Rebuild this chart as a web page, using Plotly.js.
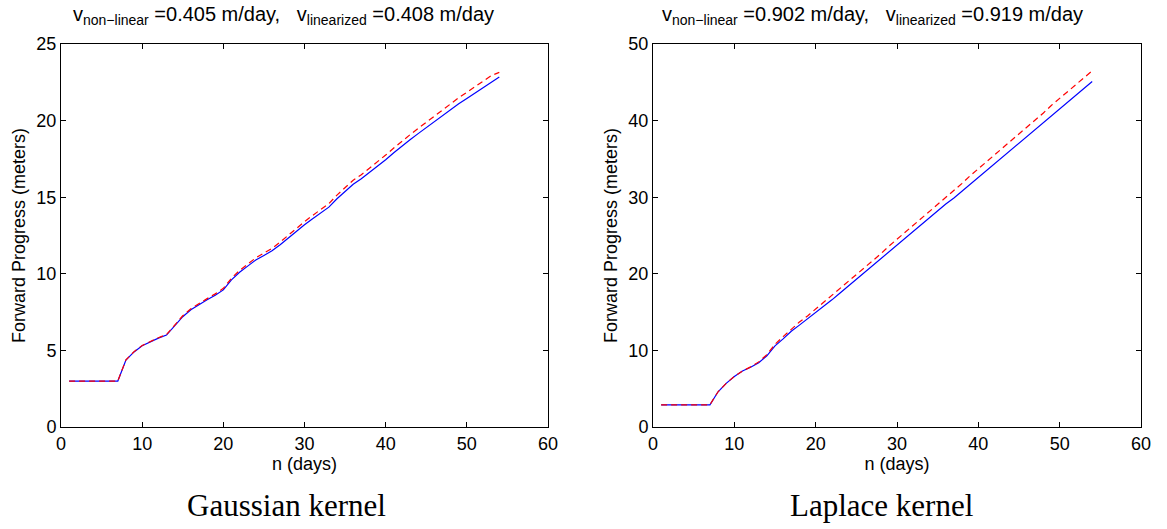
<!DOCTYPE html>
<html>
<head>
<meta charset="utf-8">
<script src="https://cdn.plot.ly/plotly-3.0.1.min.js"></script>
<style>html,body{margin:0;padding:0;background:#fff;} #chart{width:1167px;height:529px;}</style>
</head>
<body>
<div id="chart"></div>
<script>
// Days
const days = [1,2,3,4,5,6,7,8,9,10,11,12,13,14,15,16,17,18,19,20,21,22,23,24,25,26,27,28,29,30,31,32,33,34,35,36,37,38,39,40,41,42,43,44,45,46,47,48,49,50,51,52,53,54];

// Gaussian kernel: forward progress (meters)
const gaussNonLinear = [3.0,3.0,3.0,3.0,3.0,3.0,3.0,4.37,4.9,5.3,5.57,5.8,6.0,6.6,7.2,7.65,8.0,8.3,8.6,8.95,9.6,10.1,10.5,10.9,11.2,11.5,11.9,12.35,12.8,13.2,13.6,13.95,14.35,14.9,15.4,15.85,16.2,16.6,17.0,17.45,17.9,18.35,18.75,19.15,19.55,19.95,20.3,20.7,21.1,21.45,21.8,22.15,22.5,22.85];
const gaussLinearized = [3.0,3.0,3.0,3.0,3.0,3.0,3.0,4.38,4.92,5.32,5.6,5.83,6.04,6.65,7.26,7.72,8.07,8.38,8.69,9.05,9.71,10.22,10.63,11.04,11.35,11.66,12.07,12.53,12.99,13.4,13.81,14.17,14.58,15.14,15.65,16.11,16.47,16.88,17.29,17.75,18.21,18.67,19.08,19.49,19.9,20.31,20.67,21.08,21.49,21.85,22.21,22.57,22.93,23.15];

// Laplace kernel: forward progress (meters)
const laplaceNonLinear = [2.9,2.9,2.9,2.9,2.9,2.9,2.9,4.6,5.7,6.6,7.3,7.8,8.4,9.3,10.6,11.5,12.5,13.3,14.1,14.9,15.7,16.6,17.5,18.4,19.3,20.2,21.1,22.0,22.8,23.7,24.6,25.5,26.4,27.3,28.2,29.1,29.9,30.8,31.7,32.6,33.5,34.4,35.3,36.2,37.1,38.0,38.9,39.8,40.6,41.5,42.4,43.3,44.2,45.1];
const laplaceLinearized = [2.9,2.9,2.9,2.9,2.9,2.9,2.9,4.6,5.7,6.6,7.3,7.85,8.5,9.45,10.8,11.8,12.8,13.7,14.5,15.4,16.2,17.1,18.0,19.0,19.9,20.8,21.7,22.6,23.6,24.5,25.4,26.3,27.2,28.2,29.1,30.0,30.9,31.8,32.8,33.7,34.6,35.5,36.4,37.4,38.3,39.2,40.1,41.0,42.0,42.9,43.8,44.7,45.6,46.5];

const titleLeft = 'v<sub>non\u2212linear</sub> =0.405 m/day,\u00a0\u00a0\u00a0v<sub>linearized</sub> =0.408 m/day';
const titleRight = 'v<sub>non\u2212linear</sub> =0.902 m/day,\u00a0\u00a0\u00a0v<sub>linearized</sub> =0.919 m/day';
const xLabel = 'n (days)';
const yLabel = 'Forward Progress (meters)';
const captionLeft = 'Gaussian kernel';
const captionRight = 'Laplace kernel';

const sans = 'Liberation Sans, Arial, Helvetica, sans-serif';
const serif = 'Liberation Serif, Times New Roman, serif';

const traces = [
  {x: days, y: gaussNonLinear, xaxis: 'x', yaxis: 'y', mode: 'lines', line: {color: '#0000ff', width: 1.2}, name: 'non-linear'},
  {x: days, y: gaussLinearized, xaxis: 'x', yaxis: 'y', mode: 'lines', line: {color: '#ff0000', width: 1.2, dash: '6px,4px'}, name: 'linearized'},
  {x: days, y: laplaceNonLinear, xaxis: 'x2', yaxis: 'y2', mode: 'lines', line: {color: '#0000ff', width: 1.2}, name: 'non-linear'},
  {x: days, y: laplaceLinearized, xaxis: 'x2', yaxis: 'y2', mode: 'lines', line: {color: '#ff0000', width: 1.2, dash: '6px,4px'}, name: 'linearized'}
];

const W = 1167, H = 529;
const ax = (extra) => Object.assign({
  showline: true, mirror: 'ticks', linecolor: '#000', linewidth: 1,
  ticks: 'inside', ticklen: 5, tickcolor: '#000', tickwidth: 1,
  showgrid: false, zeroline: false, fixedrange: true,
  tickfont: {family: sans, size: 18, color: '#000'}
}, extra);

const yDom = [1 - 427/H, 1 - 44/H];

const layout = {
  width: W, height: H,
  margin: {l: 0, r: 0, t: 0, b: 0},
  paper_bgcolor: '#fff', plot_bgcolor: '#fff',
  showlegend: false,
  xaxis: ax({domain: [61/W, 548/W], range: [0, 60], dtick: 10, anchor: 'y',
    title: {text: xLabel, font: {family: sans, size: 18, color: '#000'}, standoff: 3}}),
  yaxis: ax({domain: yDom, range: [0, 25], dtick: 5, anchor: 'x',
    title: {text: yLabel, font: {family: sans, size: 18, color: '#000'}, standoff: 6}}),
  xaxis2: ax({domain: [653/W, 1141/W], range: [0, 60], dtick: 10, anchor: 'y2',
    title: {text: xLabel, font: {family: sans, size: 18, color: '#000'}, standoff: 3}}),
  yaxis2: ax({domain: yDom, range: [0, 50], dtick: 10, anchor: 'x2',
    title: {text: yLabel, font: {family: sans, size: 18, color: '#000'}, standoff: 6}}),
  annotations: [
    {text: titleLeft, xref: 'paper', yref: 'paper', x: 283/W, y: 1 - 16/H, xanchor: 'center', yanchor: 'middle', showarrow: false, font: {family: sans, size: 20, color: '#000'}},
    {text: titleRight, xref: 'paper', yref: 'paper', x: 872/W, y: 1 - 16/H, xanchor: 'center', yanchor: 'middle', showarrow: false, font: {family: sans, size: 20, color: '#000'}},
    {text: captionLeft, xref: 'paper', yref: 'paper', x: 286/W, y: 1 - 505/H, xanchor: 'center', yanchor: 'middle', showarrow: false, font: {family: serif, size: 31, color: '#000'}},
    {text: captionRight, xref: 'paper', yref: 'paper', x: 881/W, y: 1 - 505/H, xanchor: 'center', yanchor: 'middle', showarrow: false, font: {family: serif, size: 31, color: '#000'}}
  ]
};

Plotly.newPlot('chart', traces, layout, {displayModeBar: false, staticPlot: true});
</script>
</body>
</html>
